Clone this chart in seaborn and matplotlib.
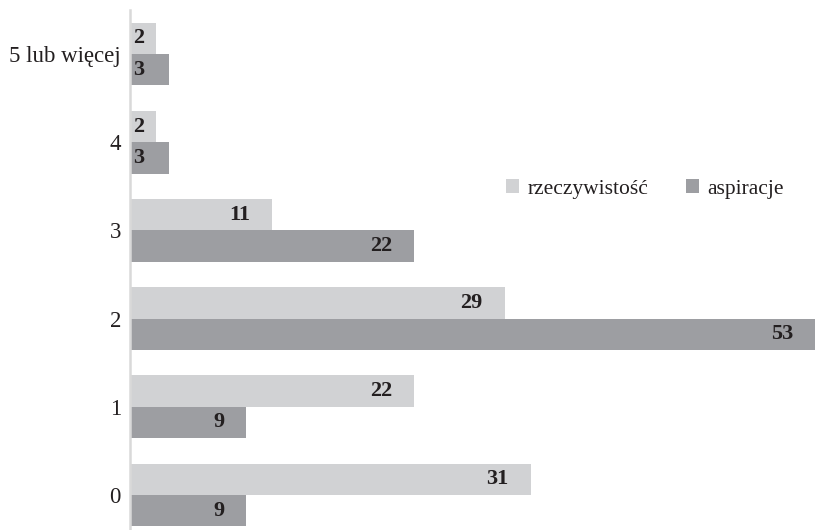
import matplotlib
matplotlib.use("Agg")
import matplotlib.pyplot as plt
import seaborn as sns
import pandas as pd

categories = ["5 lub więcej", "4", "3", "2", "1", "0"]
rzeczywistosc = [2, 2, 11, 29, 22, 31]
aspiracje = [3, 3, 22, 53, 9, 9]
series_names = ["rzeczywistość", "aspiracje"]
colors = ["#d1d2d4", "#9d9ea2"]

df = pd.DataFrame({
    "kategoria": categories * 2,
    "seria": [series_names[0]] * len(categories) + [series_names[1]] * len(categories),
    "wartosc": rzeczywistosc + aspiracje,
})

sns.set_theme(style="white")
plt.rcParams["font.family"] = ["Liberation Serif", "DejaVu Serif"]

fig = plt.figure(figsize=(8.15, 5.30), dpi=100)
ax = fig.add_axes([130 / 815, -9 / 530, 685 / 815, 529 / 530])

sns.barplot(data=df, y="kategoria", x="wartosc", hue="seria",
            order=categories, hue_order=series_names, palette=colors,
            orient="h", width=0.71, gap=0, saturation=1, ax=ax,
            edgecolor="none", linewidth=0)

ax.set_xlim(0, 53)
ax.set_ylim(5.5, -0.5)
ax.set_xlabel("")
ax.set_ylabel("")
ax.set_xticks([])
for s in ["top", "right", "bottom"]:
    ax.spines[s].set_visible(False)
ax.spines["left"].set_color("#d9d9d9")
ax.spines["left"].set_linewidth(1.8)
ax.tick_params(axis="y", length=0, pad=6.5, labelsize=16.5, labelcolor="#231f20")

# value labels near the inner end of each bar
for container, vals in zip(ax.containers, [rzeczywistosc, aspiracje]):
    for patch, v in zip(container.patches, vals):
        yc = patch.get_y() + patch.get_height() / 2
        if v >= 5:
            ax.annotate(f"{v}", xy=(v, yc), xytext=(-22, 0), textcoords="offset pixels",
                        ha="right", va="center", fontsize=16, fontweight="bold",
                        color="#231f20")
        else:
            ax.annotate(f"{v}", xy=(0, yc), xytext=(3, 0), textcoords="offset pixels",
                        ha="left", va="center", fontsize=16, fontweight="bold",
                        color="#231f20")

leg = ax.legend(loc="center", bbox_to_anchor=(0.752, 0.662), ncol=2, frameon=False,
                fontsize=15.5, handlelength=0.6, handleheight=0.6, handletextpad=0.4,
                columnspacing=1.75)
for t in leg.get_texts():
    t.set_color("#231f20")

fig.savefig("out.png", dpi=100)
